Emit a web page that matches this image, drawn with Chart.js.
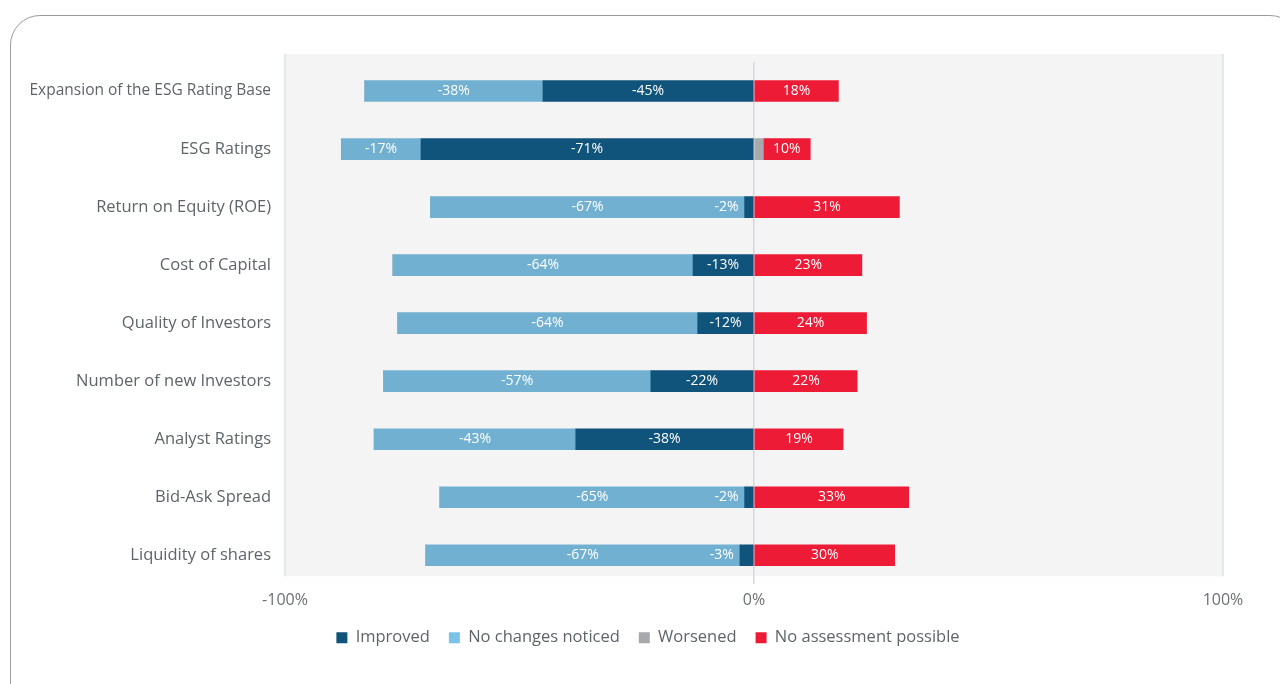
<!DOCTYPE html>
<html><head><meta charset="utf-8">
<script src="https://cdn.jsdelivr.net/npm/chart.js@4.4.1/dist/chart.umd.min.js"></script>
<style>
html,body{margin:0;padding:0;background:#fff;width:1280px;height:684px;overflow:hidden;}
#card{position:absolute;left:10px;top:15px;width:1290px;height:720px;border:1.5px solid #9b9b9b;border-radius:30px;box-sizing:border-box;}
#wrap{position:absolute;left:0;top:0;width:1280px;height:684px;}
</style></head>
<body>
<div id="card"></div>
<div id="wrap"><canvas id="c" width="1280" height="684"></canvas></div>
<script>
const categories = ["Expansion of the ESG Rating Base","ESG Ratings","Return on Equity (ROE)","Cost of Capital","Quality of Investors","Number of new Investors","Analyst Ratings","Bid-Ask Spread","Liquidity of shares"];
const improved = [-45,-71,-2,-13,-12,-22,-38,-2,-3];
const noChanges = [-38,-17,-67,-64,-64,-57,-43,-65,-67];
const worsened = [0,2,0,0,0,0,0,0,0];
const noAssessment = [18,10,31,23,24,22,19,33,30];
const xTicks = [-100,0,100];

const FONT = "'Open Sans', 'Noto Sans', sans-serif";
const colors = {improved:'#10537b', noChanges:'#72b0d1', worsened:'#a7a9ad', noAssessment:'#ee1b36'};

const bgPlugin = {
  id:'bg',
  beforeDraw(chart){
    const {ctx, chartArea:a} = chart;
    const t = a.top - 8, b = a.bottom - 8;
    ctx.save(); ctx.fillStyle='#f4f4f4';
    ctx.fillRect(a.left, t, a.right-a.left, b-t);
    ctx.strokeStyle='#dde1e6'; ctx.lineWidth=1.5;
    ctx.beginPath();
    ctx.moveTo(a.left, t); ctx.lineTo(a.left, b);
    ctx.moveTo(a.right, t); ctx.lineTo(a.right, b);
    ctx.stroke();
    ctx.restore();
  },
  afterLayout(chart){
    const lg = chart.legend;
    if (lg) {
      lg.left = 73;
      lg.top -= 7; lg.bottom -= 7;
    }
  }
};
const labelPlugin = {
  id:'lbls',
  afterDatasetsDraw(chart){
    const ctx = chart.ctx;
    ctx.save();
    ctx.font = "14px " + FONT;
    ctx.fillStyle = '#ffffff';
    ctx.textBaseline = 'middle';
    chart.data.datasets.forEach((ds, di) => {
      if (ds.noLabel) return;
      const meta = chart.getDatasetMeta(di);
      meta.data.forEach((el, i) => {
        const v = ds.data[i];
        if (!v) return;
        const txt = Math.round(v) + '%';
        const w = ctx.measureText(txt).width;
        const left = Math.min(el.x, el.base), right = Math.max(el.x, el.base);
        if (w + 6 <= right - left) {
          ctx.textAlign = 'center';
          ctx.fillText(txt, (left+right)/2, el.y);
        } else {
          ctx.textAlign = 'right';
          ctx.fillText(txt, left - 6, el.y);
        }
      });
    });
    ctx.restore();
  }
};

new Chart(document.getElementById('c'), {
  type:'bar',
  data:{
    labels: categories,
    datasets:[
      {label:'Improved', data: improved, backgroundColor: colors.improved},
      {label:'No changes noticed', data: noChanges, backgroundColor: colors.noChanges},
      {label:'Worsened', data: worsened, backgroundColor: colors.worsened, noLabel:true},
      {label:'No assessment possible', data: noAssessment, backgroundColor: colors.noAssessment}
    ]
  },
  options:{
    indexAxis:'y',
    responsive:false,
    animation:false,
    devicePixelRatio:1,
    layout:{padding:{left:0,right:57,top:62,bottom:21}},
    datasets:{bar:{barThickness:21, borderWidth:0}},
    scales:{
      x:{
        stacked:true, min:-100, max:100,
        afterBuildTicks(s){ s.ticks = xTicks.map(v=>({value:v})); },
        grid:{
          drawOnChartArea:true, drawTicks:false,
          color:(c)=> c.tick && c.tick.value===0 ? '#d3d8de' : 'rgba(0,0,0,0)',
          lineWidth:1.5
        },
        border:{display:false},
        ticks:{padding:7, color:'#6c7075', font:{family:FONT,size:16}, callback:(v)=> v+'%'}
      },
      y:{
        stacked:true,
        afterFit(s){ s.width = 285; },
        grid:{display:false, drawTicks:false},
        border:{display:false},
        ticks:{padding:14, color:'#5f6468',
          font:(c)=> ({family:FONT, size: c.index===0 ? 15.5 : 16.5})}
      }
    },
    plugins:{
      legend:{
        position:'bottom',
        labels:{
          boxWidth:11, boxHeight:11, padding:19,
          color:'#5f6468', font:{family:FONT,size:16.5},
          generateLabels(chart){
            const items = Chart.defaults.plugins.legend.labels.generateLabels(chart);
            items.forEach(it=>{ it.lineWidth=0; if(it.datasetIndex===1){ it.fillStyle='#7ac3e8'; } });
            return items;
          }
        }
      },
      tooltip:{enabled:false}
    }
  },
  plugins:[bgPlugin, labelPlugin]
});
</script>
</body></html>
